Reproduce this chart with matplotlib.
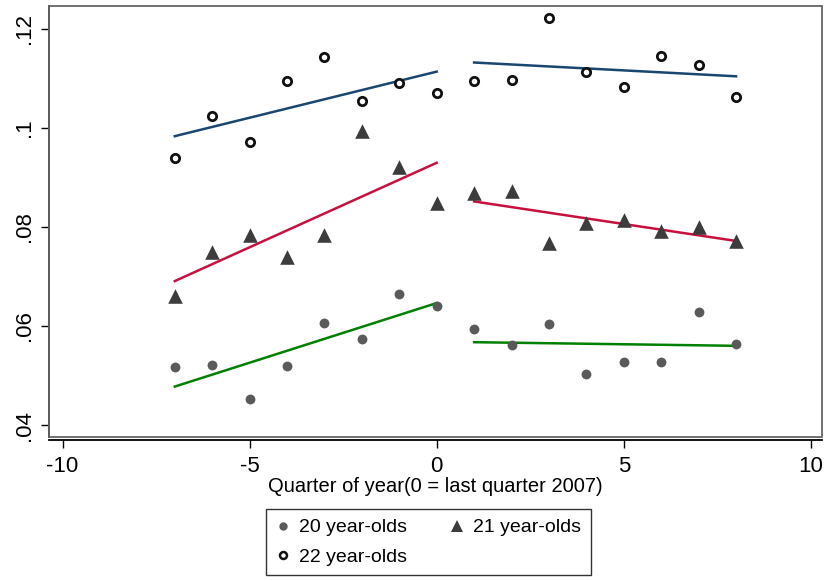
import matplotlib
matplotlib.use("Agg")
import matplotlib.pyplot as plt
from matplotlib.patches import Rectangle
from matplotlib.lines import Line2D
import numpy as np

plt.rcParams['font.family'] = ['Liberation Sans', 'DejaVu Sans']

quarters = np.arange(-7, 9)
age20 = [0.0518, 0.0522, 0.0452, 0.0520, 0.0606, 0.0574, 0.0664, 0.0641,
         0.0594, 0.0561, 0.0605, 0.0504, 0.0527, 0.0527, 0.0629, 0.0563]
age21 = [0.0660, 0.0749, 0.0783, 0.0740, 0.0784, 0.0994, 0.0922, 0.0849,
         0.0868, 0.0872, 0.0767, 0.0808, 0.0815, 0.0792, 0.0800, 0.0771]
age22 = [0.0939, 0.1023, 0.0971, 0.1094, 0.1144, 0.1054, 0.1091, 0.1071,
         0.1095, 0.1097, 0.1222, 0.1112, 0.1083, 0.1145, 0.1127, 0.1063]
labels = ['20 year-olds', '21 year-olds', '22 year-olds']
fit_colors = ['#008000', '#c8103e', '#1a476f']

xticks = [-10, -5, 0, 5, 10]
yticks = [0.04, 0.06, 0.08, 0.10, 0.12]
ytick_labels = ['.04', '.06', '.08', '.1', '.12']

fig = plt.figure(figsize=(8.27, 5.81), dpi=100)
ax = fig.add_axes([0.0593, 0.2478, 0.9343, 0.7419])

ax.scatter(quarters, age20, s=50, color='#5a5a5a', marker='o', linewidths=0, zorder=3)
ax.scatter(quarters, age21, s=110, color='#3c3c3c', marker='^', linewidths=0, zorder=3)
ax.scatter(quarters, age22, s=36, facecolors='white', edgecolors='#111111',
           marker='o', linewidths=2.0, zorder=3)

# separate linear fits before and after quarter 0
pre = quarters <= 0
post = quarters > 0
for ys, c in zip([age20, age21, age22], fit_colors):
    ys = np.array(ys)
    for m in (pre, post):
        xs = quarters[m]
        b, a = np.polyfit(xs, ys[m], 1)
        ends = np.array([xs.min(), xs.max()])
        ax.plot(ends, a + b * ends, color=c, lw=1.8, zorder=2)

ax.set_xlim(-10.36, 10.29)
ax.set_ylim(0.0376, 0.1246)
ax.set_xticks(xticks)
ax.set_xticklabels([str(t) for t in xticks])
ax.set_yticks(yticks)
ax.set_yticklabels(ytick_labels, rotation=90, va='center')
ax.tick_params(axis='both', direction='out', length=6, width=1, labelsize=16, colors='black')
ax.tick_params(axis='x', pad=6)
ax.tick_params(axis='y', pad=4)

for s in ('top', 'right'):
    ax.spines[s].set_visible(False)
ax.spines['left'].set_linewidth(1.3)
ax.spines['bottom'].set_linewidth(1.3)
ax.spines['bottom'].set_position(('outward', 2))
ax.add_patch(Rectangle((0, 0), 1, 1, transform=ax.transAxes, fill=False,
                       edgecolor='#666666', lw=1.3, zorder=5, clip_on=False))

ax.set_xlabel('Quarter of year(0 = last quarter 2007)', fontsize=14.5, labelpad=0)

h20 = Line2D([], [], ls='none', marker='o', ms=6, color='#5a5a5a', mew=0)
h21 = Line2D([], [], ls='none', marker='^', ms=9, color='#3c3c3c', mew=0)
h22 = Line2D([], [], ls='none', marker='o', ms=5, mfc='white', mec='#111111', mew=1.8)
# legend fills column by column, so order gives 20/21 on the first row
leg = fig.legend([h20, h22, h21], [labels[0], labels[2], labels[1]], ncol=2,
                 loc='upper left', bbox_to_anchor=(266 / 827, 1 - 509 / 581),
                 fontsize=14, frameon=True, fancybox=False, edgecolor='black',
                 handlelength=0.7, handletextpad=0.5, columnspacing=2.2,
                 labelspacing=0.6, borderpad=0.5, borderaxespad=0)
leg.get_frame().set_linewidth(1.0)

fig.savefig('out.png', dpi=100)
